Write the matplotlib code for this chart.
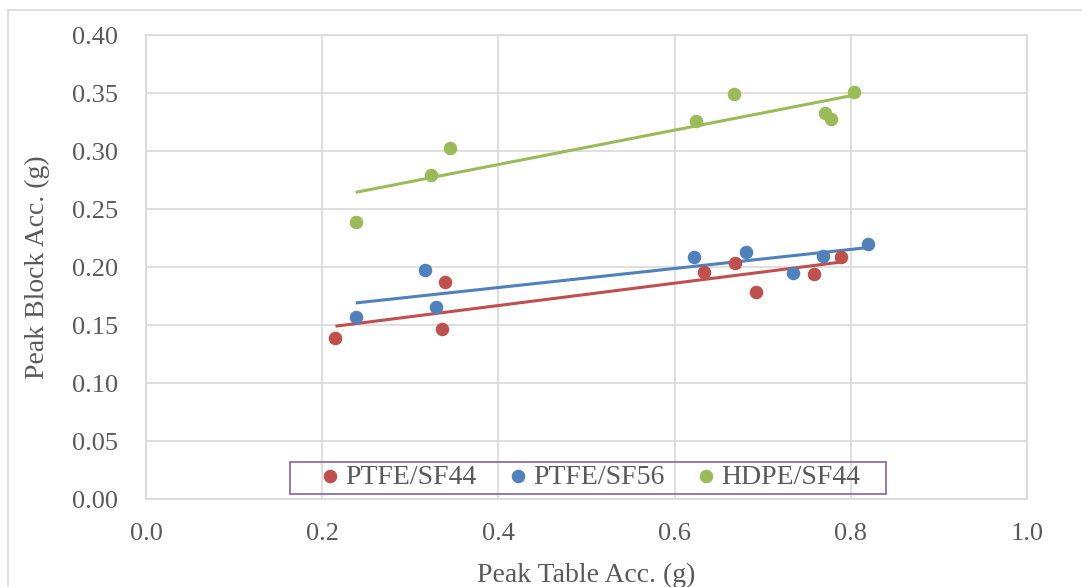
import numpy as np
import matplotlib
matplotlib.use("Agg")
import matplotlib.pyplot as plt
from matplotlib.lines import Line2D
from matplotlib.patches import Rectangle

# peak table / block accelerations (g) for each interface
ptfe44_table = [0.215, 0.336, 0.339, 0.633, 0.669, 0.692, 0.758, 0.789]
ptfe44_block = [0.139, 0.147, 0.187, 0.196, 0.204, 0.179, 0.194, 0.209]

ptfe56_table = [0.238, 0.317, 0.329, 0.622, 0.681, 0.734, 0.768, 0.819]
ptfe56_block = [0.157, 0.198, 0.166, 0.209, 0.213, 0.195, 0.210, 0.220]

hdpe44_table = [0.238, 0.323, 0.345, 0.624, 0.667, 0.771, 0.778, 0.804]
hdpe44_block = [0.239, 0.280, 0.303, 0.326, 0.349, 0.333, 0.328, 0.351]

labels = ["PTFE/SF44", "PTFE/SF56", "HDPE/SF44"]
colors = ["#C0504D", "#4F81BD", "#9BBB59"]

plt.rcParams["font.family"] = ["Liberation Serif", "DejaVu Serif"]
txt_color = "#595959"
grid_color = "#D9D9D9"

fig = plt.figure(figsize=(10.82, 5.87), dpi=100)
ax = fig.add_axes([146 / 1082, 1 - 499.3 / 587, (1027 - 146) / 1082, (499.3 - 35.3) / 587])

series = [(ptfe44_table, ptfe44_block), (ptfe56_table, ptfe56_block), (hdpe44_table, hdpe44_block)]
for (x, y), lab, c in zip(series, labels, colors):
    x = np.array(x)
    y = np.array(y)
    ax.scatter(x, y, s=95, color=c, label=lab, zorder=3, linewidths=0)
    # linear trendline over the range of the data
    m, b = np.polyfit(x, y, 1)
    xs = np.array([x.min(), x.max()])
    ax.plot(xs, m * xs + b, color=c, lw=2.2, zorder=2, solid_capstyle="butt")

ax.set_xlim(0, 1.0)
ax.set_ylim(0, 0.40)
ax.set_xticks(np.arange(0, 1.01, 0.2))
ax.set_yticks(np.arange(0, 0.401, 0.05))
ax.xaxis.set_major_formatter(plt.FormatStrFormatter("%.1f"))
ax.yaxis.set_major_formatter(plt.FormatStrFormatter("%.2f"))
ax.tick_params(length=0, labelsize=19, colors=txt_color)
ax.tick_params(axis="y", pad=20)
ax.tick_params(axis="x", pad=17)
ax.grid(True, color=grid_color, lw=1.2)
ax.set_axisbelow(True)
for sp in ax.spines.values():
    sp.set_color(grid_color)
    sp.set_linewidth(1.2)

ax.set_xlabel("Peak Table Acc. (g)", fontsize=20, color=txt_color, labelpad=13)
ax.set_ylabel("Peak Block Acc. (g)", fontsize=20, color=txt_color, labelpad=16)

# legend entries without frame, box drawn separately (transparent, gridlines show through)
leg = ax.legend(loc="lower center", bbox_to_anchor=(0.506, 0.012), ncol=3, fontsize=20,
                frameon=False, handlelength=0.5, handletextpad=0.3,
                columnspacing=1.25, borderpad=0.15, borderaxespad=0)
for t in leg.get_texts():
    t.set_color(txt_color)
ax.add_patch(Rectangle((0.164, 0.012), 0.676, 0.068, transform=ax.transAxes,
                       facecolor="none", edgecolor="#8064A2", lw=1.2, zorder=4))

# outer chart border
fig.add_artist(Line2D([8 / 1082, 8 / 1082], [0, 1 - 9.5 / 587], transform=fig.transFigure, color=grid_color, lw=1.2))
fig.add_artist(Line2D([8 / 1082, 1], [1 - 9.5 / 587, 1 - 9.5 / 587], transform=fig.transFigure, color=grid_color, lw=1.2))

fig.savefig("out.png", dpi=100)
